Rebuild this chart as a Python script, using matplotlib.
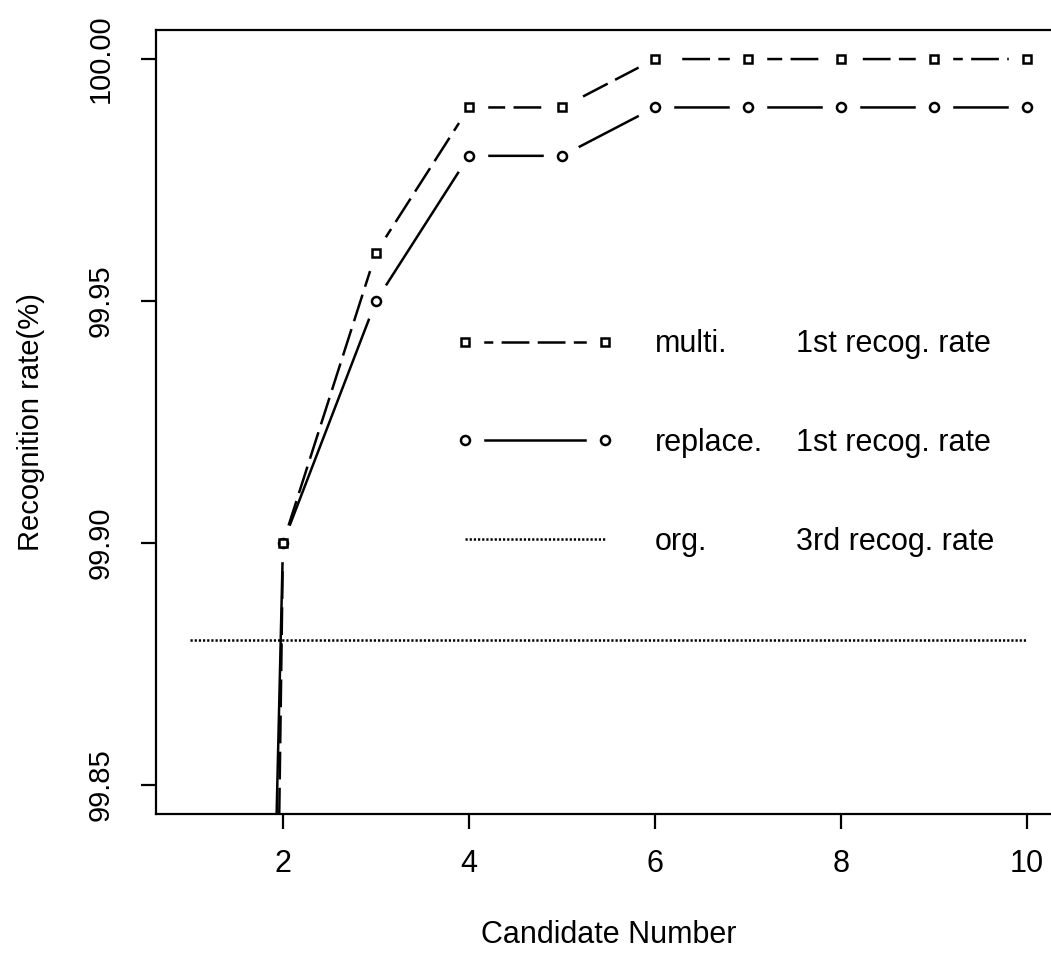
import matplotlib
matplotlib.use("Agg")
import matplotlib.pyplot as plt
from matplotlib.lines import Line2D
from matplotlib.legend_handler import HandlerTuple

# ---- data -------------------------------------------------------------
candidates = [1, 2, 3, 4, 5, 6, 7, 8, 9, 10]
multi_rate = [98.50, 99.90, 99.96, 99.99, 99.99, 100.00, 100.00, 100.00, 100.00, 100.00]
replace_rate = [99.08, 99.90, 99.95, 99.98, 99.98, 99.99, 99.99, 99.99, 99.99, 99.99]
org_rate = [99.88] * 10

y_ticks = [99.85, 99.90, 99.95, 100.00]
y_tick_labels = ["99.85", "99.90", "99.95", "100.00"]
x_ticks = [2, 4, 6, 8, 10]
x_tick_labels = ["2", "4", "6", "8", "10"]

series_names = ["multi.", "replace.", "org."]
series_desc = ["1st recog. rate", "1st recog. rate", "3rd recog. rate"]

# ---- style ------------------------------------------------------------
plt.rcParams["font.family"] = ["Liberation Sans", "DejaVu Sans"]
plt.rcParams["lines.scale_dashes"] = False

LW = 1.8
DASH = (20, 6)
DOT = (1.6, 1.4)
HALO = 27          # blank space around each point (R type="b" look)
MS = 6.5

fig = plt.figure(figsize=(10.51, 9.59), dpi=100)
ax = fig.add_axes([0.1489, 0.1512, 0.8601, 0.8175])

# replace series: line, gap around points
ax.plot(candidates, replace_rate, color="k", lw=LW, solid_capstyle="butt", zorder=2.0)
ax.plot(candidates, replace_rate, ls="none", marker="o", ms=HALO,
        mfc="white", mec="none", zorder=2.1)
# multi series
ax.plot(candidates, multi_rate, color="k", lw=LW, dashes=DASH, zorder=2.2)
ax.plot(candidates, multi_rate, ls="none", marker="o", ms=HALO,
        mfc="white", mec="none", zorder=2.3)
# org reference
ax.plot(candidates, org_rate, color="k", lw=LW, dashes=DOT, zorder=2.2)

# point symbols
ax.plot(candidates, replace_rate, ls="none", marker="o", ms=MS,
        mfc="white", mec="k", mew=LW, zorder=4)
ax.plot(candidates, multi_rate, ls="none", marker="s", ms=MS - 0.5,
        mfc="white", mec="k", mew=LW, zorder=4)

ax.set_xlim(0.64, 10.36)
ax.set_ylim(99.844, 100.006)

ax.set_xticks(x_ticks)
ax.set_xticklabels(x_tick_labels, fontsize=22)
ax.set_yticks(y_ticks)
ax.set_yticklabels(y_tick_labels, fontsize=21, rotation=90, va="center")
ax.tick_params(axis="both", direction="out", length=11, width=1.6, color="k")
ax.tick_params(axis="x", pad=14)
ax.tick_params(axis="y", pad=19)

for side in ("left", "bottom", "top", "right"):
    ax.spines[side].set_linewidth(1.6)

ax.set_xlabel("Candidate Number", fontsize=22, labelpad=30)
ax.set_ylabel("Recognition rate(%)", fontsize=21, labelpad=30)

# ---- legend -------------------------------------------------------------
def halo():
    return Line2D([], [], ls="none", marker="o", ms=HALO, mfc="white", mec="none")

h_multi = (Line2D([], [], color="k", lw=LW, dashes=DASH), halo(),
           Line2D([], [], ls="none", marker="s", ms=MS - 0.5, mfc="white", mec="k", mew=LW))
h_replace = (Line2D([], [], color="k", lw=LW), halo(),
             Line2D([], [], ls="none", marker="o", ms=MS, mfc="white", mec="k", mew=LW))
h_org = Line2D([], [], color="k", lw=LW, dashes=DOT)

leg_kw = dict(frameon=False, fontsize=22, borderpad=0, borderaxespad=0,
              labelspacing=2.25, loc="center left", bbox_transform=ax.transAxes)

leg1 = ax.legend([h_multi, h_replace, h_org], series_names,
                 handler_map={tuple: HandlerTuple(ndivide=1, pad=0)},
                 numpoints=2, handlelength=5.18, handletextpad=1.33,
                 bbox_to_anchor=(0.3311, 0.4732), **leg_kw)
ax.add_artist(leg1)

blank = [Line2D([], [], ls="none") for _ in series_desc]
ax.legend(blank, series_desc, handlelength=0, handletextpad=0,
          bbox_to_anchor=(0.7074, 0.4732), **leg_kw)

fig.savefig("out.png", dpi=100)
